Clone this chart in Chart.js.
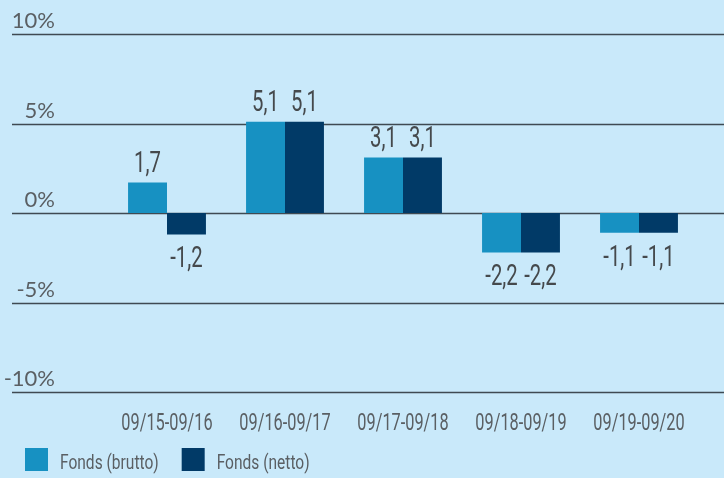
<!DOCTYPE html>
<html>
<head>
<meta charset="utf-8">
<script src="https://cdn.jsdelivr.net/npm/chart.js@4.4.0/dist/chart.umd.min.js"></script>
<style>
  html, body { margin: 0; padding: 0; background: #c9e9fa; }
  #wrap { width: 724px; height: 478px; position: relative; }
</style>
</head>
<body>
<div id="wrap"><canvas id="chart"></canvas></div>
<script>
// Daten
const periods = ['09/15-09/16', '09/16-09/17', '09/17-09/18', '09/18-09/19', '09/19-09/20'];
const brutto  = [1.7, 5.1, 3.1, -2.2, -1.1];
const netto   = [-1.2, 5.1, 3.1, -2.2, -1.1];
const yTicks  = [10, 5, 0, -5, -10];

const COLORS = {
  brutto: '#1791c2',
  netto:  '#013a67',
  grid:   '#3f4a52',
  tick:   '#5a5f63',
  value:  '#45494c',
};
const COND_FONT = 'Roboto, sans-serif';

const fmt = v => v.toFixed(1).replace('.', ',');

// keine Narrow-Schrift installiert -> Text horizontal stauchen
function condText(ctx, text, x, y, align, size, sx) {
  ctx.save();
  ctx.font = size + 'px ' + COND_FONT;
  ctx.textAlign = align;
  ctx.textBaseline = 'alphabetic';
  ctx.translate(x, y);
  ctx.scale(sx, 1);
  ctx.fillText(text, 0, 0);
  ctx.restore();
}

// Gitterlinien + Achsenbeschriftung über die ganze Breite
const gridPlugin = {
  id: 'fullGrid',
  beforeDatasetsDraw(chart) {
    const { ctx, scales: { y } } = chart;
    ctx.save();
    ctx.strokeStyle = COLORS.grid;
    ctx.lineWidth = 1.5;
    ctx.fillStyle = COLORS.tick;
    ctx.font = "22px Lato, sans-serif";
    ctx.textAlign = 'right';
    ctx.textBaseline = 'alphabetic';
    yTicks.forEach(t => {
      const py = Math.round(y.getPixelForValue(t)) + 0.5;
      ctx.beginPath();
      ctx.moveTo(12, py);
      ctx.lineTo(chart.width, py);
      ctx.stroke();
      ctx.fillText(t + '%', 55, py - 7);
    });
    ctx.restore();
  },
};

// Werte, Kategorien, Legende
const labelPlugin = {
  id: 'labels',
  afterDatasetsDraw(chart) {
    const { ctx, scales: { x }, chartArea } = chart;
    ctx.save();
    ctx.fillStyle = COLORS.value;
    chart.data.datasets.forEach((ds, i) => {
      chart.getDatasetMeta(i).data.forEach((bar, j) => {
        const v = ds.data[j];
        const ty = v >= 0 ? bar.y - 11 : bar.y + 33;
        condText(ctx, fmt(v), bar.x, ty, 'center', 29, 0.7);
      });
    });

    ctx.fillStyle = COLORS.tick;
    chart.data.labels.forEach((lab, j) => {
      condText(ctx, lab, x.getPixelForTick(j), chartArea.bottom + 38, 'center', 24, 0.68);
    });

    // Legende
    let lx = 25;
    const ly = 448;
    chart.data.datasets.forEach(ds => {
      ctx.fillStyle = ds.backgroundColor;
      ctx.fillRect(lx, ly, 23, 23);
      lx += 23 + 12;
      ctx.fillStyle = COLORS.tick;
      ctx.font = '21px ' + COND_FONT;
      const w = ctx.measureText(ds.label).width * 0.74;
      condText(ctx, ds.label, lx, ly + 21, 'left', 21, 0.74);
      lx += w + 23;
    });
    ctx.restore();
  },
};

new Chart(document.getElementById('chart'), {
  type: 'bar',
  data: {
    labels: periods,
    datasets: [
      { label: 'Fonds (brutto)', data: brutto, backgroundColor: COLORS.brutto },
      { label: 'Fonds (netto)',  data: netto,  backgroundColor: COLORS.netto },
    ],
  },
  options: {
    responsive: true,
    maintainAspectRatio: false,
    animation: false,
    layout: { padding: { left: 12, right: 26, top: 34, bottom: 0 } },
    datasets: { bar: { categoryPercentage: 0.66, barPercentage: 1.0 } },
    plugins: {
      legend: { display: false },
      tooltip: { enabled: false },
    },
    scales: {
      x: {
        grid: { display: false, drawTicks: false },
        border: { display: false },
        ticks: { display: false },
        afterFit: s => { s.height = 86; },
      },
      y: {
        min: -10,
        max: 10,
        grid: { display: false, drawTicks: false },
        border: { display: false },
        ticks: { display: false },
        afterFit: s => { s.width = 96; },
      },
    },
  },
  plugins: [gridPlugin, labelPlugin],
});
</script>
</body>
</html>
